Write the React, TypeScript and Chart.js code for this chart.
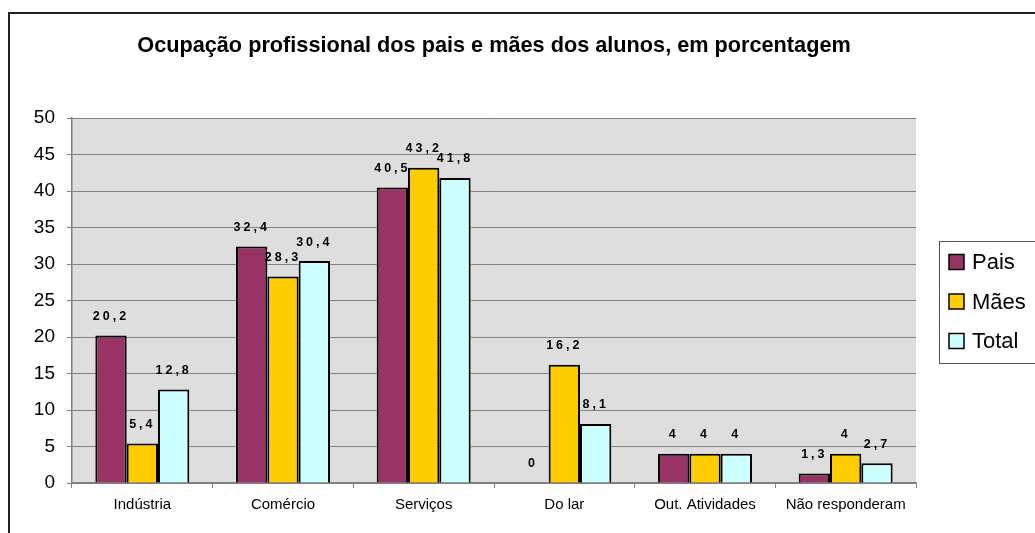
import React, { useEffect, useRef } from "react";
import { Chart, registerables } from "chart.js";

Chart.register(...registerables);

const titleText = "Ocupação profissional dos pais e mães dos alunos, em porcentagem";
const categories = ["Indústria", "Comércio", "Serviços", "Do lar", "Out. Atividades", "Não responderam"];
const seriesNames = ["Pais", "Mães", "Total"];
const paisValues = [20.2, 32.4, 40.5, 0, 4, 1.3];
const maesValues = [5.4, 28.3, 43.2, 16.2, 4, 4];
const totalValues = [12.8, 30.4, 41.8, 8.1, 4, 2.7];
const seriesColors = ["#993366", "#FFCC00", "#CCFFFF"];
const yMin = 0;
const yMax = 50;
const yStep = 5;

const FONT = '"Liberation Sans", Arial, sans-serif';

const backgroundPlugin = {
  id: "plotBackground",
  beforeDraw(chart: any) {
    const { ctx, chartArea } = chart;
    ctx.save();
    ctx.fillStyle = "#ffffff";
    ctx.fillRect(0, 0, chart.width, chart.height);
    ctx.fillStyle = "#dedede";
    ctx.fillRect(chartArea.left, chartArea.top, chartArea.right - chartArea.left, chartArea.bottom - chartArea.top);
    // outer frame
    ctx.strokeStyle = "#222";
    ctx.lineWidth = 2;
    ctx.strokeRect(9, 13, 1200, 1000);
    ctx.restore();
  },
};

const dataLabelPlugin = {
  id: "dataLabels",
  afterDatasetsDraw(chart: any) {
    const ctx = chart.ctx;
    ctx.save();
    ctx.font = `bold 12.5px ${FONT}`;
    (ctx as any).letterSpacing = "3px";
    ctx.fillStyle = "#000";
    ctx.textAlign = "center";
    ctx.textBaseline = "middle";
    chart.data.datasets.forEach((ds: any, i: number) => {
      const meta = chart.getDatasetMeta(i);
      meta.data.forEach((bar: any, j: number) => {
        const v = ds.data[j];
        const txt = String(v).replace(".", ",");
        ctx.fillText(txt, bar.x, bar.y - 19);
      });
    });
    ctx.restore();
  },
};

const legendPlugin = {
  id: "customLegend",
  afterDraw(chart: any) {
    const ctx = chart.ctx;
    const left = 939;
    const top = 241;
    const bottom = 363;
    ctx.save();
    ctx.strokeStyle = "#555";
    ctx.lineWidth = 1;
    ctx.strokeRect(left + 0.5, top + 0.5, 200, bottom - top);
    ctx.font = `22px ${FONT}`;
    ctx.textAlign = "left";
    ctx.textBaseline = "middle";
    chart.data.datasets.forEach((ds: any, i: number) => {
      const cy = 262 + i * 39.5;
      ctx.fillStyle = ds.backgroundColor;
      ctx.fillRect(949, cy - 7.5, 15, 15);
      ctx.strokeStyle = "#000";
      ctx.lineWidth = 1.5;
      ctx.strokeRect(949, cy - 7.5, 15, 15);
      ctx.fillStyle = "#000";
      ctx.fillText(ds.label, 972, cy + 1);
    });
    ctx.restore();
  },
};

export default function App() {
  const ref = useRef<HTMLCanvasElement>(null);

  useEffect(() => {
    if (!ref.current) return;
    const values = [paisValues, maesValues, totalValues];
    const chart = new Chart(ref.current, {
      type: "bar",
      data: {
        labels: categories,
        datasets: seriesNames.map((name, i) => ({
          label: name,
          data: values[i],
          backgroundColor: seriesColors[i],
          borderColor: "#000",
          borderWidth: 2,
          categoryPercentage: 0.668,
          barPercentage: 1,
        })),
      },
      options: {
        animation: false,
        responsive: false,
        devicePixelRatio: 1,
        events: [],
        layout: { padding: { left: 0, right: 119, top: 0, bottom: 0 } },
        plugins: {
          legend: { display: false },
          tooltip: { enabled: false },
          title: {
            display: true,
            text: titleText,
            fullSize: false,
            color: "#000",
            font: { family: FONT, size: 21.7, weight: "bold", lineHeight: 1.2 },
            padding: { top: 33, bottom: 59 },
          },
        },
        scales: {
          x: {
            offset: true,
            grid: {
              offset: true,
              drawOnChartArea: false,
              drawTicks: true,
              tickLength: 5,
              color: "#808080",
            },
            border: { color: "#808080", width: 1.5 },
            ticks: {
              color: "#000",
              padding: 8,
              maxRotation: 0,
              autoSkip: false,
              font: { family: FONT, size: 15 },
            },
            afterFit: (scale: any) => {
              scale.height = 50;
            },
          },
          y: {
            min: yMin,
            max: yMax,
            ticks: {
              stepSize: yStep,
              color: "#000",
              padding: 12,
              font: { family: FONT, size: 19 },
            },
            grid: {
              color: "#808080",
              lineWidth: 1,
              tickLength: 5,
              drawTicks: true,
            },
            border: { color: "#808080", width: 1.5 },
            afterFit: (scale: any) => {
              scale.width = 72;
            },
          },
        },
      },
      plugins: [backgroundPlugin, dataLabelPlugin, legendPlugin],
    });
    return () => chart.destroy();
  }, []);

  return (
    <div
      style={{
        position: "fixed",
        left: 0,
        top: 0,
        width: 1035,
        height: 533,
        overflow: "hidden",
        background: "#fff",
      }}
    >
      <canvas ref={ref} width={1035} height={533} style={{ display: "block" }} />
    </div>
  );
}
